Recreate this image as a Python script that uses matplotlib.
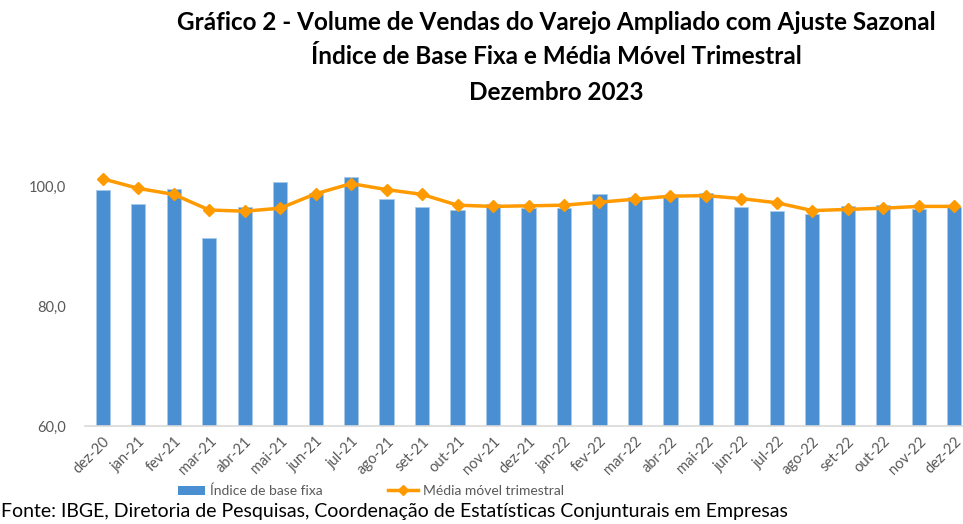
import matplotlib
matplotlib.use('Agg')
import matplotlib.pyplot as plt
from matplotlib.lines import Line2D
from matplotlib.patches import Patch
import numpy as np

# ---------------------------------------------------------------------------
# Data
# ---------------------------------------------------------------------------
months = ['dez-20', 'jan-21', 'fev-21', 'mar-21', 'abr-21', 'mai-21', 'jun-21',
          'jul-21', 'ago-21', 'set-21', 'out-21', 'nov-21', 'dez-21', 'jan-22',
          'fev-22', 'mar-22', 'abr-22', 'mai-22', 'jun-22', 'jul-22', 'ago-22',
          'set-22', 'out-22', 'nov-22', 'dez-22']
indice_base_fixa = [99.3, 97.0, 99.5, 91.3, 96.5, 100.6, 98.9, 101.5, 97.8, 96.5,
                    96.0, 97.0, 96.4, 96.4, 98.6, 98.2, 98.1, 98.9, 96.5, 95.9,
                    95.4, 96.7, 96.8, 96.2, 96.5]
media_movel = [101.2, 99.6, 98.6, 96.0, 95.8, 96.3, 98.7, 100.4, 99.4, 98.6,
               96.8, 96.6, 96.7, 96.8, 97.3, 97.8, 98.3, 98.4, 97.9, 97.2,
               95.9, 96.1, 96.3, 96.6, 96.6]
y_ticks = [60, 80, 100]
title_lines = ['Gráfico 2 - Volume de Vendas do Varejo Ampliado com Ajuste Sazonal',
               'Índice de Base Fixa e Média Móvel Trimestral',
               'Dezembro 2023']

BAR_COLOR = '#4A8FD2'
LINE_COLOR = '#FF9A00'
GRAY = '#595959'
FONT = 'Lato'

fig = plt.figure(figsize=(9.63, 5.24), dpi=100)
W, H = 963, 524
# plot area in pixels: left 85, right 972 (cropped by the figure edge), bottom 426, top 126
ax = fig.add_axes([85 / W, (H - 426) / H, (972 - 85) / W, 300 / H])

x = np.arange(len(months))
ax.bar(x, indice_base_fixa, width=0.4, color=BAR_COLOR,
       edgecolor='#A9CBEA', linewidth=0.6, zorder=2)
ax.plot(x, media_movel, color=LINE_COLOR, lw=2.5, marker='D', ms=6, zorder=3)

ax.set_xlim(-0.5, len(months) - 0.5)
ax.set_ylim(60, 110)
ax.set_yticks(y_ticks)
ax.set_yticklabels([f'{v:.1f}'.replace('.', ',') for v in y_ticks],
                   fontsize=10.5, color=GRAY, family=FONT)
ax.set_xticks(x)
ax.set_xticklabels(months, rotation=45, ha='right', rotation_mode='anchor',
                   fontsize=10.5, color=GRAY, family=FONT)
ax.tick_params(axis='both', length=0)
ax.tick_params(axis='y', pad=14)
ax.tick_params(axis='x', pad=6)
for s in ['top', 'right', 'left']:
    ax.spines[s].set_visible(False)
ax.spines['bottom'].set_color('#D9D9D9')
ax.spines['bottom'].set_linewidth(1.2)

# Title, one line at a time
for i, line in enumerate(title_lines):
    fig.text(556 / W, 1 - (22 + 35 * i) / H, line, ha='center', va='center',
             fontsize=17.5, fontweight='bold', family=FONT, color='black')

# Legend: two single-entry legends so the gap matches the reference
leg_items = [
    (Patch(facecolor=BAR_COLOR, edgecolor='none', label='Índice de base fixa'), 178, 1.95),
    (Line2D([0], [0], color=LINE_COLOR, lw=2.5, marker='D', ms=5,
            label='Média móvel trimestral'), 388, 2.15),
]
for handle, xpix, hl in leg_items:
    leg = fig.legend(handles=[handle], loc='center left',
                     bbox_to_anchor=(xpix / W, 1 - 491 / H),
                     frameon=False, borderpad=0, borderaxespad=0,
                     handlelength=hl, handletextpad=0.35,
                     prop={'family': FONT, 'size': 10})
    for t in leg.get_texts():
        t.set_color(GRAY)

fig.text(1 / W, 1 - 512 / H,
         'Fonte: IBGE, Diretoria de Pesquisas, Coordenação de Estatísticas Conjunturais em Empresas',
         ha='left', va='center', fontsize=14, family=FONT, color='black')

fig.savefig('out.png', dpi=100)
